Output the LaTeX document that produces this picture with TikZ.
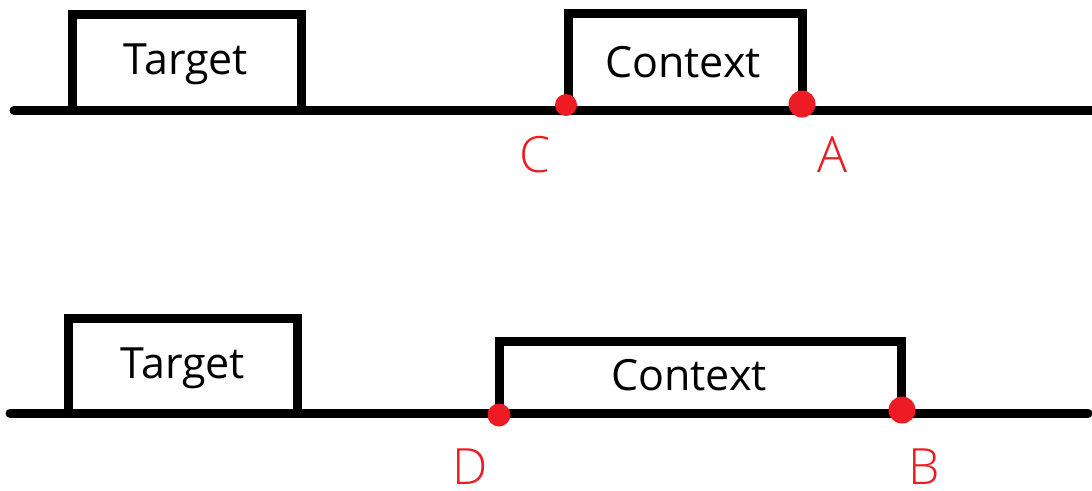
\documentclass[tikz,border=0pt]{standalone}
\usepackage{fontspec}
\setmainfont{Open Sans}
\newfontfamily\labelfont{Open Sans Light}
\definecolor{ptred}{HTML}{ED1C24}
\begin{document}
\begin{tikzpicture}[x=1pt,y=-1pt,
  baseline/.style={line width=9pt,line cap=round},
  boxline/.style={line width=9pt,line join=miter},
  lbl/.style={font=\fontsize{43}{50}\selectfont,text=black,anchor=base,inner sep=0pt},
  pt/.style={circle,fill=ptred,inner sep=0pt,minimum size=#1},
  ptlabel/.style={font=\labelfont\fontsize{50}{58}\selectfont,text=ptred,anchor=base,inner sep=0pt}]
\useasboundingbox (0,0) rectangle (1092,490);

% upper timeline
\draw[baseline] (14,110.5) coordinate (l1) -- (1092,110.5) coordinate (r1);
\path (72.5,14.5) coordinate (t1a) (301,110.5) coordinate (t1b);
\draw[boxline] (t1a |- r1) -- (t1a) -- (t1b |- t1a) -- (t1b);
\node[lbl] (t1) at (186,74) {Target};
\path (568.5,13) coordinate (c1a) (802.5,110.5) coordinate (c1b);
\draw[boxline] (c1a |- r1) -- (c1a) -- (c1b |- c1a) -- (c1b);
\node[lbl] (c1) at (683,77) {Context};
\node[pt=22pt] (C) at (566,105) {};
\node[pt=27pt] (A) at (802,104) {};
\node[ptlabel] (Clbl) at (535,172) {C};
\node[ptlabel] (Albl) at (832,172) {A};

% lower timeline
\draw[baseline] (10,413) coordinate (l2) -- (1088,413) coordinate (r2);
\path (68.5,318.5) coordinate (t2a) (297.5,413) coordinate (t2b);
\draw[boxline] (t2a |- r2) -- (t2a) -- (t2b |- t2a) -- (t2b);
\node[lbl] (t2) at (183,378) {Target};
\path (499.5,341.5) coordinate (c2a) (901.5,413) coordinate (c2b);
\draw[boxline] (c2a |- r2) -- (c2a) -- (c2b |- c2a) -- (c2b);
\node[lbl] (c2) at (689,390) {Context};
\node[pt=23pt] (D) at (499,415) {};
\node[pt=27pt] (B) at (902,410) {};
\node[ptlabel] (Dlbl) at (470,484) {D};
\node[ptlabel] (Blbl) at (924,484) {B};
\end{tikzpicture}
\end{document}
